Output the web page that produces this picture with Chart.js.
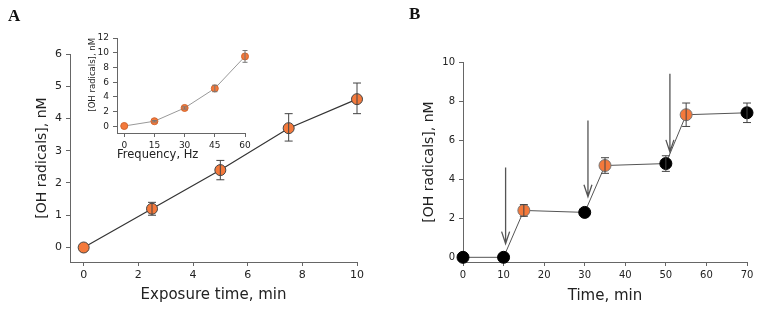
<!DOCTYPE html>
<html>
<head>
<meta charset="utf-8">
<script src="https://cdn.jsdelivr.net/npm/chart.js@4/dist/chart.umd.min.js"></script>
<style>
  body { margin: 0; background: #fff; }
  #wrap { position: relative; width: 758px; height: 311px; overflow: hidden; }
  canvas { position: absolute; }
  .lbl { position: absolute; font: bold 17px "Liberation Serif", serif; color: #111; }
</style>
</head>
<body>
<div id="wrap">
  <canvas id="chartA" style="left:0;top:0"></canvas>
  <canvas id="inset" style="left:78px;top:25px"></canvas>
  <canvas id="chartB" style="left:380px;top:0"></canvas>
  <div class="lbl" style="left:8px;top:6px">A</div>
  <div class="lbl" style="left:409px;top:4px">B</div>
</div>
<script>
// Panel A: exposure time
const timeA = [0, 2.5, 5, 7.5, 10];
const ohA = [0, 1.2, 2.4, 3.7, 4.6];
const errLoA = [0, 1.0, 2.1, 3.3, 4.15];
const errHiA = [0, 1.4, 2.7, 4.15, 5.1];
const xTicksA = [0, 2, 4, 6, 8, 10];
const yTicksA = [0, 1, 2, 3, 4, 5, 6];

// Inset: frequency
const freq = [0, 15, 30, 45, 60];
const ohFreq = [0.05, 0.7, 2.5, 5.15, 9.5];
const errLoFreq = [0.05, 0.6, 2.35, 4.7, 8.7];
const errHiFreq = [0.05, 0.8, 2.65, 5.6, 10.3];
const xTicksFreq = [0, 15, 30, 45, 60];
const yTicksFreq = [0, 2, 4, 6, 8, 10, 12];

// Panel B: time course
const timeB = [0, 10, 15, 30, 35, 50, 55, 70];
const ohB = [0, 0, 2.4, 2.3, 4.7, 4.8, 7.3, 7.4];
const errLoB = [0, 0, 2.1, 2.3, 4.3, 4.4, 6.7, 6.9];
const errHiB = [0, 0, 2.7, 2.3, 5.1, 5.2, 7.9, 7.9];
const pointTypeB = ['off', 'off', 'on', 'off', 'on', 'off', 'on', 'off'];
const xTicksB = [0, 10, 20, 30, 40, 50, 60, 70];
const yTicksB = [0, 2, 4, 6, 8, 10];
const arrowX = [10.5, 30.8, 51];
const arrowTop = [4.6, 7.0, 9.4];
const arrowEnd = [0.7, 3.1, 5.4];

const orange = '#f4793b';
const axisColor = '#666';
const font = '"DejaVu Sans", Verdana, sans-serif';

const errorBars = {
  id: 'errorBars',
  afterDatasetsDraw(chart, args, opts) {
    const ctx = chart.ctx;
    const xs = chart.scales.x, ys = chart.scales.y;
    ctx.save();
    ctx.strokeStyle = opts.color || '#444';
    ctx.lineWidth = 1;
    opts.x.forEach((v, i) => {
      if (opts.hi[i] === opts.lo[i]) return;
      const px = xs.getPixelForValue(v);
      const top = ys.getPixelForValue(opts.hi[i]);
      const bot = ys.getPixelForValue(opts.lo[i]);
      ctx.beginPath();
      ctx.moveTo(px, top); ctx.lineTo(px, bot);
      ctx.moveTo(px - opts.cap, top); ctx.lineTo(px + opts.cap, top);
      ctx.moveTo(px - opts.cap, bot); ctx.lineTo(px + opts.cap, bot);
      ctx.stroke();
    });
    ctx.restore();
  }
};

// arrows marking when the field was switched on (panel B)
const arrows = {
  id: 'arrows',
  afterDatasetsDraw(chart, args, opts) {
    if (!opts.x) return;
    const ctx = chart.ctx;
    const xs = chart.scales.x, ys = chart.scales.y;
    ctx.save();
    ctx.strokeStyle = '#555';
    ctx.lineWidth = 1.3;
    opts.x.forEach((v, i) => {
      const px = xs.getPixelForValue(v);
      const y0 = ys.getPixelForValue(opts.top[i]);
      const y1 = ys.getPixelForValue(opts.end[i]);
      ctx.beginPath();
      ctx.moveTo(px, y0); ctx.lineTo(px, y1);
      ctx.moveTo(px - 4, y1 - 12); ctx.lineTo(px, y1); ctx.lineTo(px + 4, y1 - 12);
      ctx.stroke();
    });
    ctx.restore();
  }
};

function axes(o) {
  const tickFont = { family: font, size: o.tickSize };
  return {
    x: {
      type: 'linear', min: o.xMin, max: o.xMax,
      afterBuildTicks: s => { s.ticks = o.xTicks.map(v => ({ value: v })); },
      afterFit: s => { s.height = o.xHeight; },
      grid: { drawOnChartArea: false, drawTicks: true, tickLength: 4, color: axisColor },
      border: { color: axisColor },
      ticks: { font: tickFont, color: '#222', padding: 3, maxRotation: 0 },
      title: { display: true, text: o.xTitle, align: o.xAlign || 'center', font: { family: font, size: o.xTitleSize }, color: '#222', padding: { top: 0, bottom: o.xTitlePad } }
    },
    y: {
      type: 'linear', min: o.yMin, max: o.yMax,
      afterBuildTicks: s => { s.ticks = o.yTicks.map(v => ({ value: v })); },
      afterFit: s => { s.width = o.yWidth; },
      grid: { drawOnChartArea: false, drawTicks: true, tickLength: 4, color: axisColor },
      border: { color: axisColor },
      ticks: { font: tickFont, color: '#222', padding: 4 },
      title: { display: true, text: '[OH radicals], nM', align: o.yAlign || 'center', font: { family: font, size: o.yTitleSize }, color: '#222', padding: { top: o.yTitlePad, bottom: 0 } }
    }
  };
}

function makeChart(id, w, h, datasets, scales, padding, plugins, pluginOpts) {
  const cv = document.getElementById(id);
  cv.width = w; cv.height = h;
  cv.style.width = w + 'px'; cv.style.height = h + 'px';
  return new Chart(cv.getContext('2d'), {
    type: 'line',
    data: { datasets: datasets },
    options: {
      responsive: false,
      animation: false,
      devicePixelRatio: 1,
      layout: { padding: padding },
      plugins: Object.assign({ legend: { display: false }, tooltip: { enabled: false } }, pluginOpts),
      scales: scales
    },
    plugins: plugins
  });
}

// Panel A main
makeChart('chartA', 380, 311, [{
  data: timeA.map((t, i) => ({ x: t, y: ohA[i] })),
  borderColor: '#333', borderWidth: 1.2,
  pointBackgroundColor: orange, pointBorderColor: '#444', pointBorderWidth: 1,
  pointRadius: 5.5, clip: false
}], axes({
  xMin: -0.5, xMax: 10, yMin: -0.45, yMax: 6,
  xTicks: xTicksA, yTicks: yTicksA, tickSize: 11,
  xTitle: 'Exposure time, min', xTitleSize: 15, yTitleSize: 14,
  xHeight: 49, yWidth: 70, xTitlePad: 7, yTitlePad: 34
}), { left: 0, right: 23, top: 54, bottom: 0 }, [errorBars],
{ errorBars: { x: timeA, lo: errLoA, hi: errHiA, cap: 4, color: '#444' } });

// Inset
makeChart('inset', 180, 140, [{
  data: freq.map((f, i) => ({ x: f, y: ohFreq[i] })),
  borderColor: '#999', borderWidth: 1,
  pointBackgroundColor: orange, pointBorderColor: '#d0652e', pointBorderWidth: 1,
  pointRadius: 3.5, clip: false
}], axes({
  xMin: -3.6, xMax: 60, yMin: -0.9, yMax: 12,
  xTicks: xTicksFreq, yTicks: yTicksFreq, tickSize: 9,
  xTitle: 'Frequency, Hz', xTitleSize: 11.5, yTitleSize: 8.5,
  xAlign: 'start', yAlign: 'end',
  xHeight: 32, yWidth: 39, xTitlePad: 3, yTitlePad: 10
}), { left: 0, right: 13, top: 13, bottom: 0 }, [errorBars],
{ errorBars: { x: freq, lo: errLoFreq, hi: errHiFreq, cap: 2.5, color: '#777' } });

// Panel B
makeChart('chartB', 378, 311, [{
  data: timeB.map((t, i) => ({ x: t, y: ohB[i] })),
  borderColor: '#555', borderWidth: 1,
  pointBackgroundColor: pointTypeB.map(p => p === 'on' ? orange : '#000'),
  pointBorderColor: pointTypeB.map(p => p === 'on' ? '#777' : '#000'),
  pointBorderWidth: 1, pointRadius: 6, clip: false
}], axes({
  xMin: 0, xMax: 70, yMin: -0.24, yMax: 10,
  xTicks: xTicksB, yTicks: yTicksB, tickSize: 10,
  xTitle: 'Time, min', xTitleSize: 15, yTitleSize: 14,
  xHeight: 49, yWidth: 83, xTitlePad: 6, yTitlePad: 41
}), { left: 0, right: 11, top: 62, bottom: 0 }, [errorBars, arrows],
{ errorBars: { x: timeB, lo: errLoB, hi: errHiB, cap: 4, color: '#444' },
  arrows: { x: arrowX, top: arrowTop, end: arrowEnd } });
</script>
</body>
</html>
